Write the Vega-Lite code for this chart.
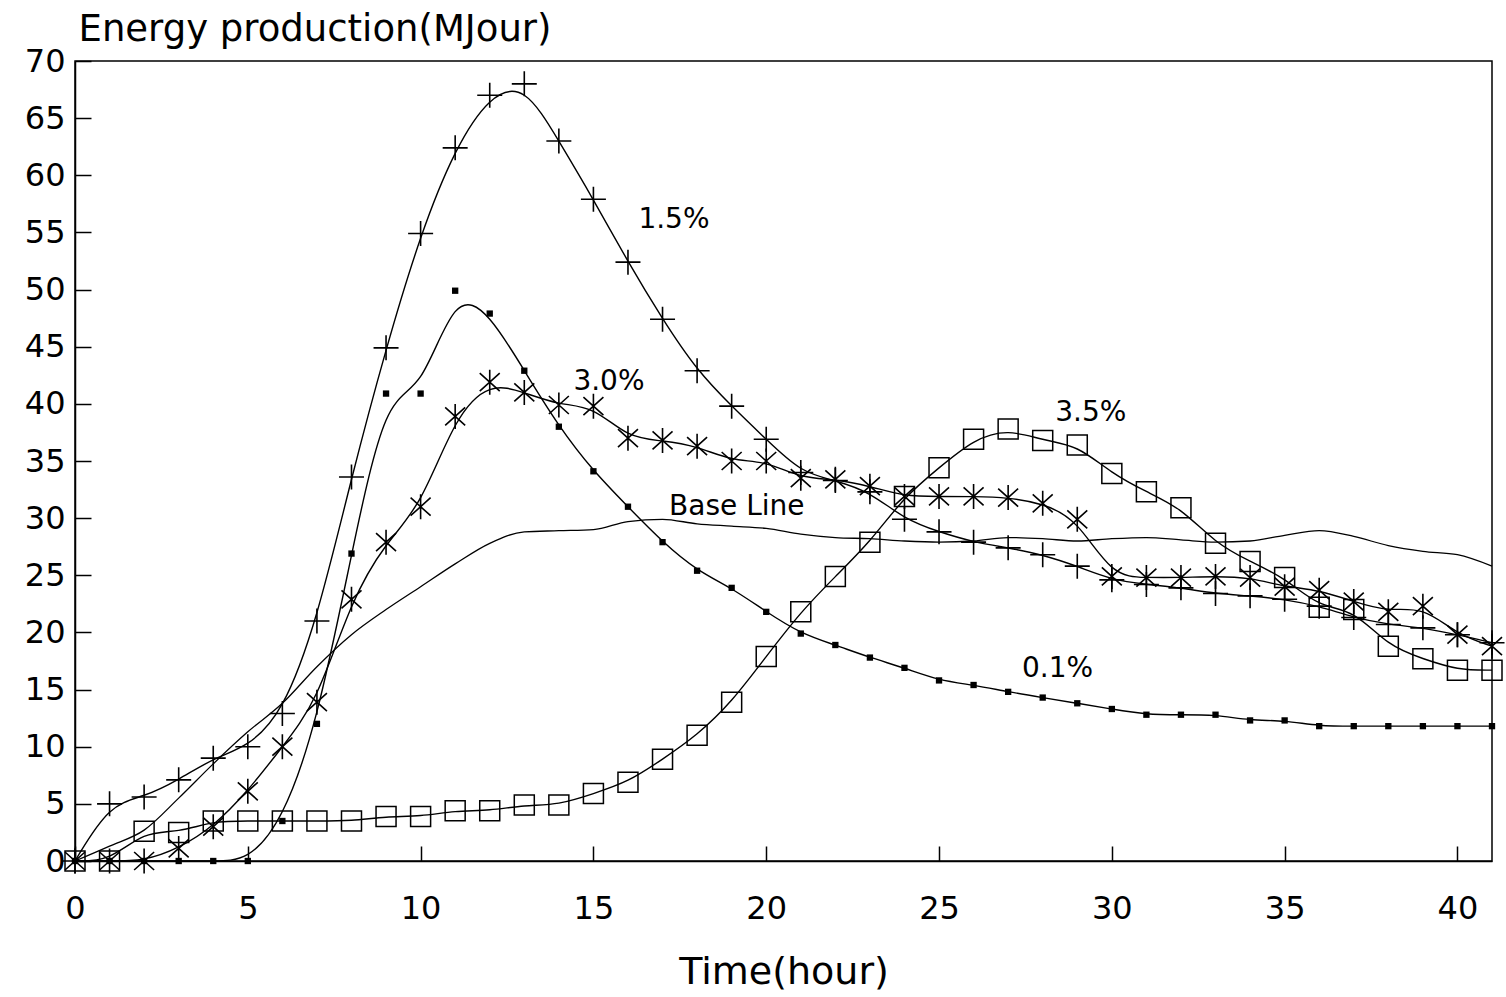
{
  "$schema": "https://vega.github.io/schema/vega-lite/v6.json",
  "width": 1417,
  "height": 800,
  "autosize": {"type": "none"},
  "padding": {"left": 75, "top": 61, "right": 14, "bottom": 136},
  "background": "white",
  "config": {
    "view": {"stroke": "black", "strokeWidth": 1.5},
    "font": "DejaVu Sans"
  },
  "datasets": {
    "hours": [
      {"hour": 0, "p01": 0, "p15": 0, "p30": 0, "p35": 0, "base": 0},
      {"hour": 1, "p01": 0, "p15": 5.0, "p30": 0, "p35": 0, "base": 1.3},
      {"hour": 2, "p01": 0, "p15": 5.6, "p30": 0, "p35": 2.6, "base": 2.7},
      {"hour": 3, "p01": 0, "p15": 7.1, "p30": 1.1, "p35": 2.5, "base": 5.5},
      {"hour": 4, "p01": 0, "p15": 9.0, "p30": 3.0, "p35": 3.5, "base": 8.5},
      {"hour": 5, "p01": 0, "p15": 10.0, "p30": 6.1, "p35": 3.5, "base": 11.3},
      {"hour": 6, "p01": 3.5, "p15": 12.9, "p30": 10.0, "p35": 3.5, "base": 13.8},
      {"hour": 7, "p01": 12.0, "p15": 21.0, "p30": 13.9, "p35": 3.5, "base": 17.0},
      {"hour": 8, "p01": 26.9, "p15": 33.6, "p30": 22.9, "p35": 3.5, "base": 19.8},
      {"hour": 9, "p01": 40.9, "p15": 44.9, "p30": 27.9, "p35": 3.9, "base": 22.0},
      {"hour": 10, "p01": 40.9, "p15": 54.9, "p30": 31.0, "p35": 3.9, "base": 24.0},
      {"hour": 11, "p01": 49.9, "p15": 62.4, "p30": 38.9, "p35": 4.4, "base": 26.0},
      {"hour": 12, "p01": 47.9, "p15": 67.0, "p30": 41.9, "p35": 4.4, "base": 27.8},
      {"hour": 13, "p01": 42.9, "p15": 68.0, "p30": 41.0, "p35": 4.9, "base": 28.8},
      {"hour": 14, "p01": 38.0, "p15": 63.0, "p30": 39.9, "p35": 4.9, "base": 28.9},
      {"hour": 15, "p01": 34.1, "p15": 57.9, "p30": 39.8, "p35": 5.9, "base": 29.0},
      {"hour": 16, "p01": 31.0, "p15": 52.4, "p30": 37.0, "p35": 6.9, "base": 29.7},
      {"hour": 17, "p01": 27.9, "p15": 47.4, "p30": 36.8, "p35": 8.9, "base": 29.9},
      {"hour": 18, "p01": 25.4, "p15": 42.9, "p30": 36.3, "p35": 11.0, "base": 29.5},
      {"hour": 19, "p01": 23.9, "p15": 39.8, "p30": 35.0, "p35": 13.9, "base": 29.3},
      {"hour": 20, "p01": 21.8, "p15": 36.9, "p30": 35.0, "p35": 17.9, "base": 29.1},
      {"hour": 21, "p01": 19.9, "p15": 34.0, "p30": 33.5, "p35": 21.8, "base": 28.6},
      {"hour": 22, "p01": 18.9, "p15": 33.3, "p30": 33.4, "p35": 24.9, "base": 28.3},
      {"hour": 23, "p01": 17.8, "p15": 32.3, "p30": 32.8, "p35": 27.9, "base": 28.2},
      {"hour": 24, "p01": 16.9, "p15": 29.9, "p30": 31.9, "p35": 31.9, "base": 28.0},
      {"hour": 25, "p01": 15.8, "p15": 28.8, "p30": 31.9, "p35": 34.4, "base": 27.9},
      {"hour": 26, "p01": 15.4, "p15": 27.9, "p30": 31.9, "p35": 36.9, "base": 28.0},
      {"hour": 27, "p01": 14.8, "p15": 27.4, "p30": 31.8, "p35": 37.8, "base": 28.3},
      {"hour": 28, "p01": 14.3, "p15": 26.8, "p30": 31.3, "p35": 36.8, "base": 28.2},
      {"hour": 29, "p01": 13.8, "p15": 25.8, "p30": 29.9, "p35": 36.4, "base": 28.0},
      {"hour": 30, "p01": 13.3, "p15": 24.6, "p30": 24.9, "p35": 33.9, "base": 28.2},
      {"hour": 31, "p01": 12.8, "p15": 24.2, "p30": 24.8, "p35": 32.3, "base": 28.3},
      {"hour": 32, "p01": 12.8, "p15": 23.9, "p30": 24.8, "p35": 30.9, "base": 28.1},
      {"hour": 33, "p01": 12.8, "p15": 23.4, "p30": 24.9, "p35": 27.8, "base": 27.9},
      {"hour": 34, "p01": 12.3, "p15": 23.2, "p30": 24.8, "p35": 26.2, "base": 28.0},
      {"hour": 35, "p01": 12.3, "p15": 22.9, "p30": 24.0, "p35": 24.8, "base": 28.5},
      {"hour": 36, "p01": 11.8, "p15": 22.3, "p30": 23.7, "p35": 22.2, "base": 28.9},
      {"hour": 37, "p01": 11.8, "p15": 21.3, "p30": 22.7, "p35": 22.0, "base": 28.4},
      {"hour": 38, "p01": 11.8, "p15": 20.7, "p30": 21.8, "p35": 18.8, "base": 27.6},
      {"hour": 39, "p01": 11.8, "p15": 20.4, "p30": 22.3, "p35": 17.7, "base": 27.1},
      {"hour": 40, "p01": 11.8, "p15": 19.8, "p30": 19.8, "p35": 16.7, "base": 26.8},
      {"hour": 41, "p01": 11.8, "p15": 19.1, "p30": 18.8, "p35": 16.7, "base": 25.8}
    ],
    "notes": [
      {"hour": 17.33, "energy": 56.1, "label": "1.5%"},
      {"hour": 15.45, "energy": 41.9, "label": "3.0%"},
      {"hour": 19.15, "energy": 31.0, "label": "Base Line"},
      {"hour": 29.39, "energy": 39.2, "label": "3.5%"},
      {"hour": 28.43, "energy": 16.8, "label": "0.1%"}
    ]
  },
  "encoding": {
    "x": {
      "field": "hour",
      "type": "quantitative",
      "scale": {"domain": [0, 41], "nice": false, "zero": false},
      "axis": {
        "values": [0, 5, 10, 15, 20, 25, 30, 35, 40],
        "grid": false,
        "tickSize": -15,
        "tickColor": "black",
        "tickWidth": 1.5,
        "domainColor": "black",
        "domainWidth": 1.5,
        "labelFont": "DejaVu Sans",
        "labelFontSize": 32,
        "labelColor": "black",
        "labelPadding": 47,
        "labelFlush": false,
        "labelOverlap": false,
        "title": "Time(hour)",
        "titleFont": "DejaVu Sans",
        "titleFontSize": 38,
        "titleFontWeight": "normal",
        "titleColor": "black",
        "titleY": 122,
        "titleBaseline": "alphabetic"
      }
    },
    "y": {
      "field": "energy",
      "type": "quantitative",
      "scale": {"domain": [0, 70], "nice": false},
      "axis": {
        "values": [0, 5, 10, 15, 20, 25, 30, 35, 40, 45, 50, 55, 60, 65, 70],
        "grid": false,
        "tickSize": -16,
        "tickColor": "black",
        "tickWidth": 1.5,
        "domainColor": "black",
        "domainWidth": 1.5,
        "labelFont": "DejaVu Sans",
        "labelFontSize": 32,
        "labelColor": "black",
        "labelPadding": 26,
        "labelFlush": false,
        "labelOverlap": false,
        "title": "Energy production(MJour)",
        "titleFont": "DejaVu Sans",
        "titleFontSize": 37,
        "titleFontWeight": "normal",
        "titleColor": "black",
        "titleAngle": 0,
        "titleAlign": "left",
        "titleBaseline": "alphabetic",
        "titleX": 3,
        "titleY": -21
      }
    }
  },
  "layer": [
    {
      "data": {"name": "hours"},
      "transform": [
        {"fold": ["p01", "p15", "p30", "p35", "base"], "as": ["series", "energy"]},
        {"filter": "datum.series != 'base'"}
      ],
      "mark": {"type": "line", "interpolate": "basis", "color": "black", "strokeWidth": 1.4},
      "encoding": {"detail": {"field": "series", "type": "nominal"}}
    },
    {
      "data": {"name": "hours"},
      "transform": [
        {"fold": ["p01", "p15", "p30", "p35", "base"], "as": ["series", "energy"]},
        {"filter": "datum.series == 'base'"}
      ],
      "mark": {"type": "line", "interpolate": "monotone", "color": "black", "strokeWidth": 1.3},
      "encoding": {}
    },
    {
      "data": {"name": "hours"},
      "transform": [
        {"fold": ["p01", "p15", "p30", "p35", "base"], "as": ["series", "energy"]},
        {"filter": "datum.series == 'p35'"}
      ],
      "mark": {"type": "point", "shape": "square", "size": 400, "filled": false, "color": "black", "strokeWidth": 1.5, "opacity": 1}
    },
    {
      "data": {"name": "hours"},
      "transform": [
        {"fold": ["p01", "p15", "p30", "p35", "base"], "as": ["series", "energy"]},
        {"filter": "datum.series == 'p15'"}
      ],
      "mark": {"type": "point", "shape": "M-1,0L1,0M0,-1L0,1", "size": 625, "filled": false, "color": "black", "strokeWidth": 1.6, "opacity": 1}
    },
    {
      "data": {"name": "hours"},
      "transform": [
        {"fold": ["p01", "p15", "p30", "p35", "base"], "as": ["series", "energy"]},
        {"filter": "datum.series == 'p30'"}
      ],
      "mark": {"type": "point", "shape": "M0,-1L0,1M-0.8,-0.72L0.8,0.72M-0.8,0.72L0.8,-0.72", "size": 625, "filled": false, "color": "black", "strokeWidth": 1.6, "opacity": 1}
    },
    {
      "data": {"name": "hours"},
      "transform": [
        {"fold": ["p01", "p15", "p30", "p35", "base"], "as": ["series", "energy"]},
        {"filter": "datum.series == 'p01'"}
      ],
      "mark": {"type": "point", "shape": "square", "size": 40, "filled": true, "color": "black", "opacity": 1}
    },
    {
      "data": {"name": "notes"},
      "mark": {"type": "text", "font": "DejaVu Sans", "fontSize": 28, "align": "center", "baseline": "middle", "color": "black"},
      "encoding": {"text": {"field": "label", "type": "nominal"}}
    }
  ]
}
